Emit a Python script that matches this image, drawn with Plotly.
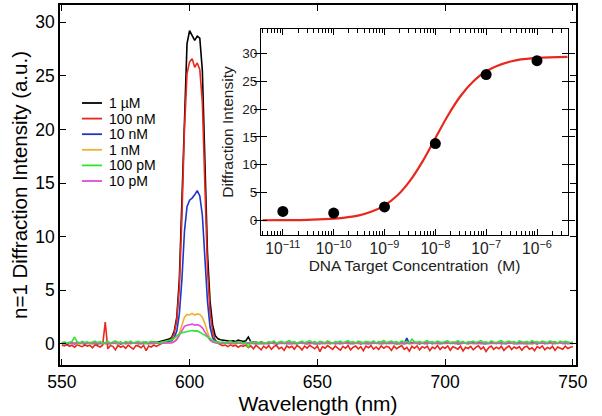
import plotly.graph_objects as go

# ---------------- data ----------------
wavelength_nm = list(range(550, 751))  # 1 nm steps, 550..750

black_1uM = [
    0.05, 0.10, 0.02, 0.08, 0.12, 0.04, 0.15, 0.06, 0.10, 0.03,   # 550
    0.08, 0.12, 0.05, 0.10, 0.02, 0.09, 0.14, 0.06, 0.11, 0.04,   # 560
    0.10, 0.07, 0.13, 0.03, 0.09, 0.12, 0.05, 0.10, 0.08, 0.14,   # 570
    0.06, 0.11, 0.09, 0.15, 0.08, 0.12, 0.18, 0.14, 0.22, 0.30,   # 580
    0.35, 0.40, 0.45, 0.6, 1.2, 2.5, 6.0, 13.0, 22.0, 28.0,       # 590
    29.2, 28.8, 28.3, 28.7, 28.5, 25.5, 17.0, 8.5, 4.0, 1.8,      # 600
    0.8, 0.5, 0.40, 0.35, 0.30, 0.32, 0.25, 0.30, 0.22, 0.35,     # 610
    0.28, 0.22, 0.30, 0.65, 0.18, 0.20, 0.15, 0.12, 0.18, 0.10,   # 620
    0.10, 0.05, 0.12, 0.08, 0.03, 0.09, 0.14, 0.06, 0.10, 0.04,   # 630
    0.07, 0.11, 0.05, 0.09, 0.13, 0.06, 0.02, 0.10, 0.08, 0.12,   # 640
    0.04, 0.09, 0.13, 0.07, 0.10, 0.05, 0.11, 0.03, 0.08, 0.12,   # 650
    0.06, 0.10, 0.14, 0.05, 0.09, 0.12, 0.07, 0.03, 0.11, 0.08,   # 660
    0.13, 0.05, 0.09, 0.11, 0.04, 0.08, 0.12, 0.06, 0.10, 0.15,   # 670
    0.07, 0.03, 0.10, 0.12, 0.06, 0.09, 0.05, 0.13, 0.08, 0.11,   # 680
    0.04, 0.10, 0.07, 0.12, 0.09, 0.05, 0.11, 0.08, 0.14, 0.06,   # 690
    0.09, 0.12, 0.05, 0.08, 0.11, 0.03, 0.10, 0.13, 0.07, 0.09,   # 700
    0.05, 0.11, 0.08, 0.14, 0.06, 0.10, 0.04, 0.09, 0.12, 0.07,   # 710
    0.10, 0.06, 0.13, 0.08, 0.04, 0.11, 0.09, 0.05, 0.12, 0.08,   # 720
    0.07, 0.12, 0.05, 0.10, 0.14, 0.08, 0.03, 0.11, 0.09, 0.06,   # 730
    0.11, 0.08, 0.13, 0.05, 0.09, 0.12, 0.06, 0.10, 0.04, 0.08,   # 740
    0.09,                                                         # 750
]

red_100nM = [
    -0.10, -0.18, -0.05, -0.22, -0.12, -0.30, -0.08, -0.15, -0.25, -0.10,  # 550
    -0.20, -0.12, -0.35, -0.08, -0.18, -0.28, -0.10, 2.05, -0.45, -0.15,   # 560
    -0.22, -0.55, -0.12, -0.30, -0.18, -0.40, -0.10, -0.25, -0.48, -0.15,  # 570
    -0.20, -0.35, -0.12, -0.62, -0.18, -0.28, -0.10, -0.22, -0.05, 0.05,   # 580
    0.10, 0.20, 0.30, 0.5, 1.0, 2.2, 5.3, 11.8, 20.0, 25.2,                # 590
    26.3, 26.6, 25.8, 26.2, 25.6, 22.5, 14.5, 7.0, 3.0, 1.2,               # 600
    0.4, 0.1, -0.05, -0.15, -0.10, -0.25, -0.08, -0.20, -0.12, -0.30,      # 610
    -0.15, -0.22, -0.10, -0.35, -0.18, -0.45, -0.12, -0.30, -0.55, -0.20,  # 620
    -0.40, -0.15, -0.50, -0.25, -0.12, -0.45, -0.30, -0.60, -0.18, -0.35,  # 630
    -0.22, -0.48, -0.15, -0.30, -0.55, -0.20, -0.38, -0.12, -0.28, -0.45,  # 640
    -0.18, -0.72, -0.25, -0.40, -0.15, -0.32, -0.50, -0.20, -0.35, -0.58,  # 650
    -0.22, -0.40, -0.15, -0.55, -0.30, -0.18, -0.45, -0.25, -0.62, -0.20,  # 660
    -0.35, -0.15, -0.48, -0.28, -0.52, -0.18, -0.40, -0.22, -0.30, -0.60,  # 670
    -0.20, -0.45, -0.28, -0.15, -0.50, -0.32, -0.68, -0.22, -0.40, -0.18,  # 680
    -0.55, -0.25, -0.38, -0.20, -0.62, -0.30, -0.45, -0.15, -0.52, -0.28,  # 690
    -0.40, -0.18, -0.58, -0.25, -0.35, -0.48, -0.20, -0.65, -0.30, -0.42,  # 700
    -0.22, -0.55, -0.32, -0.18, -0.48, -0.28, -0.70, -0.35, -0.20, -0.50,  # 710
    -0.30, -0.45, -0.22, -0.60, -0.35, -0.18, -0.52, -0.28, -0.42, -0.25,  # 720
    -0.58, -0.30, -0.20, -0.48, -0.35, -0.62, -0.25, -0.40, -0.18, -0.55,  # 730
    -0.32, -0.45, -0.22, -0.60, -0.28, -0.38, -0.50, -0.20, -0.42, -0.30,  # 740
    -0.25,                                                                  # 750
]

blue_10nM = [
    0.04, 0.08, 0.01, 0.06, 0.10, 0.03, 0.07, 0.12, 0.05, 0.02,   # 550
    0.09, 0.04, 0.11, 0.06, 0.02, 0.08, 0.05, 0.10, 0.03, 0.07,   # 560
    0.12, 0.05, 0.08, 0.02, 0.10, 0.06, 0.09, 0.04, 0.11, 0.07,   # 570
    0.03, 0.08, 0.06, 0.10, 0.05, 0.12, 0.08, 0.10, 0.14, 0.18,   # 580
    0.20, 0.22, 0.25, 0.3, 0.6, 1.2, 2.8, 6.0, 10.5, 12.8,        # 590
    13.4, 13.6, 13.9, 14.3, 13.8, 12.0, 8.0, 4.0, 1.6, 0.6,       # 600
    0.25, 0.15, 0.12, 0.08, 0.10, 0.05, 0.09, 0.04, 0.07, 0.11,   # 610
    0.06, 0.03, 0.09, 0.05, 0.10, 0.04, 0.07, 0.02, 0.08, 0.05,   # 620
    0.09, 0.04, 0.06, 0.11, 0.03, 0.07, 0.05, 0.10, 0.02, 0.08,   # 630
    0.05, 0.09, 0.03, 0.07, 0.12, 0.04, 0.08, 0.06, 0.10, 0.03,   # 640
    0.07, 0.02, 0.10, 0.05, 0.08, 0.11, 0.04, 0.09, 0.06, 0.03,   # 650
    0.10, 0.06, 0.04, 0.09, 0.02, 0.07, 0.11, 0.05, 0.08, 0.04,   # 660
    0.03, 0.08, 0.11, 0.05, 0.09, 0.02, 0.06, 0.10, 0.04, 0.07,   # 670
    0.09, 0.05, 0.02, 0.08, 0.06, 0.55, 0.03, 0.07, 0.10, 0.05,   # 680
    0.04, 0.10, 0.07, 0.03, 0.09, 0.05, 0.12, 0.06, 0.02, 0.08,   # 690
    0.07, 0.03, 0.09, 0.11, 0.05, 0.08, 0.04, 0.10, 0.06, 0.02,   # 700
    0.10, 0.06, 0.04, 0.08, 0.12, 0.03, 0.07, 0.05, 0.09, 0.11,   # 710
    0.05, 0.09, 0.02, 0.07, 0.04, 0.10, 0.06, 0.08, 0.03, 0.07,   # 720
    0.08, 0.04, 0.10, 0.06, 0.03, 0.09, 0.05, 0.11, 0.07, 0.04,   # 730
    0.06, 0.10, 0.03, 0.08, 0.05, 0.07, 0.09, 0.04, 0.10, 0.06,   # 740
    0.05,                                                         # 750
]

orange_1nM = [
    0.06, 0.02, 0.09, 0.04, 0.07, 0.11, 0.03, 0.08, 0.05, 0.10,   # 550
    0.04, 0.07, 0.02, 0.09, 0.06, 0.03, 0.10, 0.05, 0.08, 0.04,   # 560
    0.07, 0.10, 0.03, 0.06, 0.09, 0.02, 0.08, 0.05, 0.11, 0.04,   # 570
    0.08, 0.03, 0.07, 0.05, 0.10, 0.06, 0.04, 0.09, 0.07, 0.08,   # 580
    0.08, 0.09, 0.10, 0.10, 0.25, 0.5, 1.0, 1.8, 2.5, 2.75,       # 590
    2.7, 2.85, 2.7, 2.8, 2.75, 2.5, 1.9, 1.1, 0.5, 0.25,          # 600
    0.12, 0.08, 0.05, 0.09, 0.04, 0.07, 0.10, 0.03, 0.06, 0.08,   # 610
    0.05, 0.09, 0.03, 0.07, 0.04, 0.10, 0.06, 0.08, 0.02, 0.07,   # 620
    0.04, 0.08, 0.10, 0.05, 0.07, 0.03, 0.09, 0.06, 0.11, 0.04,   # 630
    0.08, 0.03, 0.07, 0.10, 0.05, 0.09, 0.04, 0.06, 0.02, 0.08,   # 640
    0.06, 0.10, 0.04, 0.08, 0.03, 0.07, 0.09, 0.05, 0.11, 0.06,   # 650
    0.03, 0.07, 0.09, 0.04, 0.10, 0.06, 0.02, 0.08, 0.05, 0.09,   # 660
    0.07, 0.04, 0.06, 0.10, 0.03, 0.08, 0.05, 0.09, 0.07, 0.02,   # 670
    0.05, 0.09, 0.07, 0.03, 0.10, 0.04, 0.08, 0.06, 0.02, 0.09,   # 680
    0.08, 0.05, 0.03, 0.09, 0.06, 0.10, 0.04, 0.07, 0.11, 0.05,   # 690
    0.04, 0.08, 0.10, 0.06, 0.02, 0.07, 0.09, 0.05, 0.08, 0.03,   # 700
    0.07, 0.03, 0.09, 0.05, 0.08, 0.04, 0.10, 0.06, 0.03, 0.09,   # 710
    0.09, 0.06, 0.04, 0.10, 0.07, 0.03, 0.08, 0.05, 0.11, 0.04,   # 720
    0.05, 0.09, 0.07, 0.03, 0.08, 0.06, 0.10, 0.04, 0.07, 0.09,   # 730
    0.08, 0.04, 0.10, 0.06, 0.03, 0.09, 0.05, 0.07, 0.11, 0.05,   # 740
    0.06,                                                         # 750
]

green_100pM = [
    0.12, 0.20, 0.08, 0.15, 0.22, 0.65, 0.18, 0.10, 0.25, 0.14,   # 550
    0.20, 0.08, 0.18, 0.26, 0.12, 0.22, 0.05, 0.16, 0.24, 0.10,   # 560
    0.18, 0.28, 0.12, 0.20, 0.08, 0.22, 0.15, 0.26, 0.10, 0.18,   # 570
    0.24, 0.12, 0.20, 0.06, 0.18, 0.25, 0.14, 0.20, 0.10, 0.16,   # 580
    0.18, 0.22, 0.30, 0.40, 0.55, 0.75, 0.95, 1.05, 1.10, 1.15,   # 590
    1.20, 1.25, 1.20, 1.22, 1.10, 0.95, 0.80, 0.60, 0.45, 0.30,   # 600
    0.22, 0.18, 0.12, 0.20, 0.08, 0.16, 0.24, 0.10, 0.18, 0.12,   # 610
    0.20, 0.08, 0.15, -0.35, 0.22, 0.12, 0.18, 0.06, 0.20, 0.14,  # 620
    0.10, 0.22, 0.15, 0.28, 0.08, 0.18, 0.25, 0.12, 0.20, 0.30,   # 630
    0.14, 0.22, 0.08, 0.18, 0.26, 0.12, 0.20, 0.32, 0.15, 0.22,   # 640
    0.10, 0.25, 0.18, 0.12, 0.28, 0.20, 0.08, 0.22, 0.16, 0.26,   # 650
    0.12, 0.20, 0.30, 0.15, 0.22, 0.10, 0.26, 0.18, 0.12, 0.24,   # 660
    0.20, 0.14, 0.28, 0.10, 0.22, 0.18, 0.32, 0.12, 0.20, 0.26,   # 670
    0.15, 0.22, 0.10, 0.28, 0.18, 0.25, 0.12, 0.45, 0.20, 0.16,   # 680
    0.24, 0.12, 0.20, 0.30, 0.15, 0.22, 0.10, 0.26, 0.18, 0.14,   # 690
    0.22, 0.28, 0.12, 0.20, 0.16, 0.30, 0.14, 0.24, 0.10, 0.20,   # 700
    0.18, 0.26, 0.12, 0.22, 0.32, 0.15, 0.20, 0.10, 0.28, 0.18,   # 710
    0.14, 0.22, 0.30, 0.12, 0.20, 0.26, 0.16, 0.22, 0.10, 0.28,   # 720
    0.20, 0.15, 0.24, 0.12, 0.30, 0.18, 0.22, 0.14, 0.26, 0.20,   # 730
    0.12, 0.28, 0.18, 0.22, 0.10, 0.26, 0.16, 0.24, 0.20, 0.14,   # 740
    0.18,                                                         # 750
]

magenta_10pM = [
    0.07, 0.03, 0.10, 0.05, 0.08, 0.02, 0.09, 0.06, 0.11, 0.04,   # 550
    0.06, 0.09, 0.03, 0.08, 0.05, 0.10, 0.04, 0.07, 0.02, 0.09,   # 560
    0.05, 0.08, 0.11, 0.04, 0.07, 0.03, 0.09, 0.06, 0.08, 0.05,   # 570
    0.10, 0.04, 0.07, 0.09, 0.03, 0.08, 0.06, 0.10, 0.05, 0.08,   # 580
    0.08, 0.09, 0.10, 0.12, 0.20, 0.40, 0.8, 1.3, 1.65, 1.75,     # 590
    1.8, 1.85, 1.75, 1.8, 1.7, 1.5, 1.1, 0.65, 0.35, 0.18,        # 600
    0.10, 0.07, 0.04, 0.09, 0.06, 0.10, 0.03, 0.08, 0.05, 0.07,   # 610
    0.09, 0.04, 0.07, 0.10, 0.05, 0.08, 0.03, 0.09, 0.06, 0.04,   # 620
    0.08, 0.05, 0.09, 0.03, 0.07, 0.10, 0.04, 0.08, 0.06, 0.11,   # 630
    0.03, 0.07, 0.05, 0.10, 0.08, 0.04, 0.09, 0.02, 0.07, 0.06,   # 640
    0.09, 0.04, 0.08, 0.06, 0.11, 0.03, 0.07, 0.10, 0.05, 0.08,   # 650
    0.05, 0.10, 0.06, 0.03, 0.08, 0.09, 0.04, 0.07, 0.11, 0.05,   # 660
    0.08, 0.03, 0.10, 0.07, 0.05, 0.09, 0.06, 0.04, 0.08, 0.10,   # 670
    0.04, 0.08, 0.06, 0.10, 0.03, 0.07, 0.09, 0.05, 0.11, 0.06,   # 680
    0.07, 0.10, 0.04, 0.06, 0.09, 0.03, 0.08, 0.05, 0.07, 0.10,   # 690
    0.05, 0.07, 0.09, 0.04, 0.10, 0.06, 0.03, 0.08, 0.11, 0.05,   # 700
    0.09, 0.04, 0.06, 0.10, 0.07, 0.05, 0.08, 0.03, 0.09, 0.06,   # 710
    0.06, 0.10, 0.05, 0.08, 0.03, 0.09, 0.07, 0.11, 0.04, 0.07,   # 720
    0.10, 0.05, 0.08, 0.04, 0.07, 0.09, 0.03, 0.06, 0.10, 0.05,   # 730
    0.04, 0.07, 0.09, 0.05, 0.11, 0.06, 0.08, 0.03, 0.07, 0.09,   # 740
    0.06,                                                         # 750
]

series_names = ["1 µM", "100 nM", "10 nM", "1 nM", "100 pM", "10 pM"]
series_colors = ["#000000", "#e8281c", "#1f36c8", "#f0b030", "#2de62d", "#e24ad8"]

# inset: measured points
inset_conc_M = [1e-11, 1e-10, 1e-9, 1e-8, 1e-7, 1e-6]
inset_intensity = [1.6, 1.3, 2.4, 13.8, 26.2, 28.7]

# inset: fitted curve
fit_conc_M = [3.98e-12, 1e-11, 3.16e-11, 1e-10, 3.16e-10, 5.62e-10, 1e-9, 1.78e-9,
              3.16e-9, 5.62e-9, 1e-8, 1.78e-8, 3.16e-8, 5.62e-8, 1e-7, 3.16e-7,
              1e-6, 3.98e-6]
fit_intensity = [0.01, 0.03, 0.09, 0.29, 0.90, 1.57, 2.68, 4.45, 7.09, 10.6, 14.75,
                 18.9, 22.4, 25.0, 26.8, 28.6, 29.2, 29.4]

x_ticks = [550, 600, 650, 700, 750]
y_ticks = [0, 5, 10, 15, 20, 25, 30]
inset_y_ticks = [0, 5, 10, 15, 20, 25, 30]
inset_decades = [-12, -11, -10, -9, -8, -7, -6]
inset_minor_mult = [2, 3, 4, 5, 6, 7, 8, 9]
inset_minor_ticks = [m * 10.0 ** d for d in inset_decades for m in inset_minor_mult]

# ---------------- figure ----------------
FONT = "Liberation Sans, Arial, Helvetica, sans-serif"
W, H = 602, 416
ML, MR, MT, MB = 60, 26, 5, 51
PW, PH = W - ML - MR, H - MT - MB


def px_x(px):
    return (px - ML) / PW


def px_y(py):
    return (H - MB - py) / PH


fig = go.Figure()

spectra = [black_1uM, red_100nM, blue_10nM, orange_1nM, green_100pM, magenta_10pM]
draw_order = [0, 1, 2, 3, 5, 4]  # green drawn last (on top)
for i in draw_order:
    fig.add_trace(go.Scatter(
        x=wavelength_nm, y=spectra[i], mode="lines", name=series_names[i],
        line=dict(color=series_colors[i], width=1.6), showlegend=False,
        xaxis="x", yaxis="y"))

fig.add_trace(go.Scatter(
    x=fit_conc_M, y=fit_intensity, mode="lines",
    line=dict(color="#e8281c", width=2.2, shape="spline"),
    showlegend=False, xaxis="x2", yaxis="y2"))
fig.add_trace(go.Scatter(
    x=inset_conc_M, y=inset_intensity, mode="markers",
    marker=dict(color="black", size=11), showlegend=False, xaxis="x2", yaxis="y2"))

# compact legend (line sample + label), laid out in paper coordinates
LEG_TOP, LEG_STEP = 103, 15.6
for i, name in enumerate(series_names):
    yy = px_y(LEG_TOP + i * LEG_STEP)
    fig.add_shape(type="line", xref="paper", yref="paper",
                  x0=px_x(82), x1=px_x(102), y0=yy, y1=yy,
                  line=dict(color=series_colors[i], width=1.8))
    fig.add_annotation(xref="paper", yref="paper", x=px_x(107), y=yy,
                       xanchor="left", yanchor="middle", text=name, showarrow=False,
                       font=dict(size=14, family=FONT, color="black"))

axis_common = dict(showgrid=False, zeroline=False, showline=True, mirror="allticks",
                   ticks="inside", linecolor="black", tickcolor="black", automargin=False)

INSET_XRANGE = [-11.43, -5.39]
fig.update_layout(
    width=W, height=H,
    margin=dict(l=ML, r=MR, t=MT, b=MB),
    paper_bgcolor="white", plot_bgcolor="white",
    font=dict(family=FONT, color="black"),
    showlegend=False,
    xaxis=dict(**axis_common, range=[549.3, 751.2], tickvals=x_ticks, ticklen=6,
               linewidth=1.6, tickwidth=1.4, tickfont=dict(size=17.5),
               title=dict(text="Wavelength (nm)", font=dict(size=21), standoff=2)),
    yaxis=dict(**axis_common, range=[-1.96, 31.6], tickvals=y_ticks, ticklen=6,
               linewidth=1.6, tickwidth=1.4, tickfont=dict(size=17.5),
               title=dict(text="n=1 Diffraction Intensity (a.u.)", font=dict(size=20.5), standoff=2)),
    xaxis2=dict(**axis_common, type="log", range=INSET_XRANGE, dtick=1,
                exponentformat="power", anchor="y2", domain=[px_x(261), px_x(568)],
                ticklen=6, linewidth=1, tickwidth=1, tickfont=dict(size=12.5, color="#222"),
                title=dict(text="DNA Target Concentration\u00a0 (M)", font=dict(size=15.5, color="#222"),
                           standoff=1)),
    xaxis3=dict(type="log", range=INSET_XRANGE, overlaying="x2", anchor="y2",
                tickvals=inset_minor_ticks, showticklabels=False, ticks="inside",
                ticklen=4, tickwidth=1, tickcolor="black", mirror="allticks",
                showline=False, showgrid=False, zeroline=False, automargin=False),
    yaxis2=dict(**axis_common, range=[-2.64, 34.4], tickvals=inset_y_ticks, anchor="x2",
                domain=[px_y(235), px_y(29)], ticklen=6, linewidth=1, tickwidth=1,
                tickfont=dict(size=13.5, color="#222"),
                title=dict(text="Diffraction Intensity", font=dict(size=15.5, color="#222"), standoff=4)),
)

# invisible helper trace so the minor-tick axis is drawn
fig.add_trace(go.Scatter(x=[inset_conc_M[0]], y=[inset_intensity[0]], mode="markers",
                         marker=dict(opacity=0), hoverinfo="skip", showlegend=False,
                         xaxis="x3", yaxis="y2"))

fig.write_html("out.html", config={"displayModeBar": False},
               post_script="document.body.style.margin='0';")
